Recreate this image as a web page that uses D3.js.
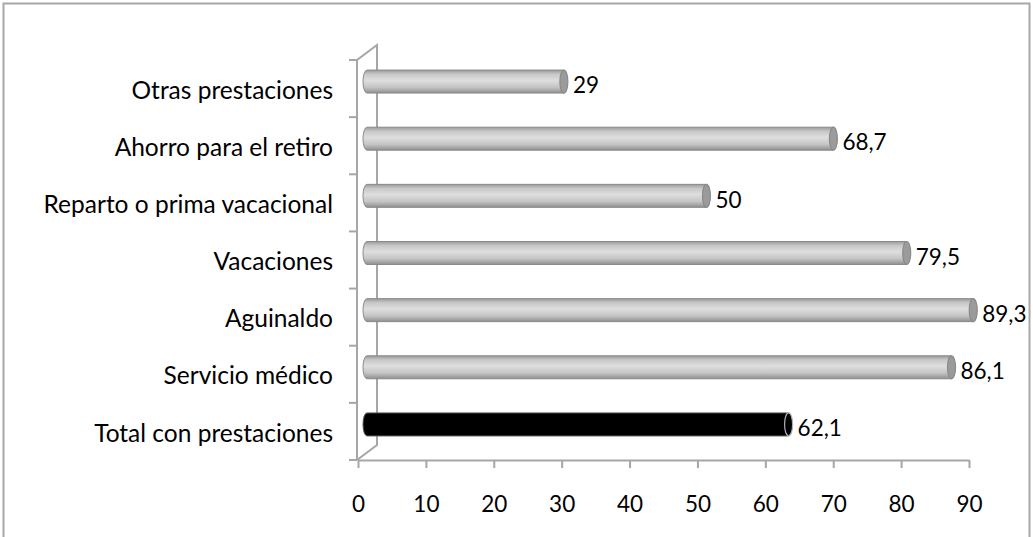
<!DOCTYPE html>
<html>
<head>
<meta charset="utf-8">
<script src="https://cdn.jsdelivr.net/npm/d3@7"></script>
<style>
  body { margin: 0; background: #fff; }
  text { font-family: Lato, "Open Sans", sans-serif; fill: #000; }
</style>
</head>
<body>
<div id="chart"></div>
<script>
// categories listed top to bottom
var categories = ['Otras prestaciones', 'Ahorro para el retiro', 'Reparto o prima vacacional',
    'Vacaciones', 'Aguinaldo', 'Servicio médico', 'Total con prestaciones'];
var values = [29, 68.7, 50, 79.5, 89.3, 86.1, 62.1];
var valueLabels = ['29', '68,7', '50', '79,5', '89,3', '86,1', '62,1'];
var xTicks = [0, 10, 20, 30, 40, 50, 60, 70, 80, 90];

var width = 1033, height = 537;
var depthX = 20, depthY = -15;   // 3D wall offset
var barDx = 9, barDy = -7;       // bars sit halfway into the depth
var barH = 23, capRx = 4;
var fontSize = 24.5;
var numFontSize = 22.5;
var axisColor = '#a6a6a6';

var svg = d3.select('#chart').append('svg')
    .attr('width', width).attr('height', height);

var defs = svg.append('defs');
var grey = defs.append('linearGradient').attr('id', 'greyBar')
    .attr('x1', 0).attr('y1', 0).attr('x2', 0).attr('y2', 1);
grey.append('stop').attr('offset', '0%').attr('stop-color', '#9a9a9a');
grey.append('stop').attr('offset', '18%').attr('stop-color', '#c8c8c8');
grey.append('stop').attr('offset', '45%').attr('stop-color', '#dedede');
grey.append('stop').attr('offset', '75%').attr('stop-color', '#c4c4c4');
grey.append('stop').attr('offset', '100%').attr('stop-color', '#8e8e8e');

// outer frame
svg.append('rect')
    .attr('x', 3.5).attr('y', 3.5)
    .attr('width', 1026).attr('height', 560)
    .attr('fill', 'none').attr('stroke', '#a8a8a8').attr('stroke-width', 2);

var x = d3.scaleLinear().domain([0, 90]).range([358, 969]);
var y = d3.scaleBand().domain(categories).range([60, 460]).padding(0);

// walls
var wall = svg.append('g').attr('stroke', axisColor).attr('stroke-width', 2).attr('fill', 'none');
wall.append('path').attr('d',
    'M' + (x(0) - 1) + ',' + y.range()[0] + 'L' + (x(0) - 1 + depthX) + ',' + (y.range()[0] + depthY) +
    'L' + (x(0) - 1 + depthX) + ',' + (y.range()[1] + depthY) +
    'L' + (x(0) - 1) + ',' + y.range()[1]);
wall.append('line')
    .attr('x1', x(0) - 1).attr('x2', x(0) - 1)
    .attr('y1', y.range()[0]).attr('y2', y.range()[1]);

// category ticks
var edges = categories.map(function(d) { return y(d); }).concat([y.range()[1]]);
wall.selectAll('.ytick').data(edges).enter().append('line')
    .attr('x1', x(0) - 9).attr('x2', x(0) - 1)
    .attr('y1', function(d) { return d; }).attr('y2', function(d) { return d; });

// x axis
var xAxis = svg.append('g')
    .attr('transform', 'translate(0,' + y.range()[1] + ')')
    .call(d3.axisBottom(x).tickValues(xTicks).tickSize(8).tickPadding(28).tickSizeOuter(0));
xAxis.select('.domain').attr('stroke', axisColor).attr('stroke-width', 2);
xAxis.selectAll('.tick line').attr('stroke', axisColor).attr('stroke-width', 2);
xAxis.selectAll('.tick text').style('font-family', 'Lato, sans-serif')
    .attr('font-size', numFontSize).attr('fill', '#000');

// category labels
svg.selectAll('.cat').data(categories).enter().append('text')
    .attr('x', 333)
    .attr('y', function(d) { return y(d) + y.bandwidth() / 2 + 4; })
    .attr('text-anchor', 'end').attr('dominant-baseline', 'middle')
    .attr('font-size', fontSize)
    .text(function(d) { return d; });

// cylinders
var bars = svg.selectAll('.bar').data(categories).enter().append('g')
    .attr('transform', function(d) {
        return 'translate(0,' + (y(d) + y.bandwidth() / 2 + barDy) + ')';
    });

bars.append('path')
    .attr('d', function(d, i) {
        var x0 = x(0) + barDx, x1 = x(values[i]) + barDx, h = barH / 2;
        return 'M' + x1 + ',' + (-h) + 'L' + x0 + ',' + (-h) +
            'A' + capRx + ',' + h + ' 0 0 0 ' + x0 + ',' + h + 'L' + x1 + ',' + h + 'Z';
    })
    .attr('fill', function(d, i) { return i === categories.length - 1 ? '#000' : 'url(#greyBar)'; })
    .attr('stroke', function(d, i) { return i === categories.length - 1 ? '#555' : '#8a8a8a'; })
    .attr('stroke-width', 1);

bars.append('ellipse')
    .attr('cx', function(d, i) { return x(values[i]) + barDx; })
    .attr('cy', 0)
    .attr('rx', capRx).attr('ry', barH / 2)
    .attr('fill', function(d, i) { return i === categories.length - 1 ? '#000' : '#9b9b9b'; })
    .attr('stroke', function(d, i) { return i === categories.length - 1 ? '#b0b0b0' : '#8a8a8a'; })
    .attr('stroke-width', 1.2);

bars.append('text')
    .attr('x', function(d, i) { return x(values[i]) + barDx + capRx + 5; })
    .attr('y', 6)
    .attr('dominant-baseline', 'middle')
    .attr('font-size', numFontSize)
    .text(function(d, i) { return valueLabels[i]; });
</script>
</body>
</html>
